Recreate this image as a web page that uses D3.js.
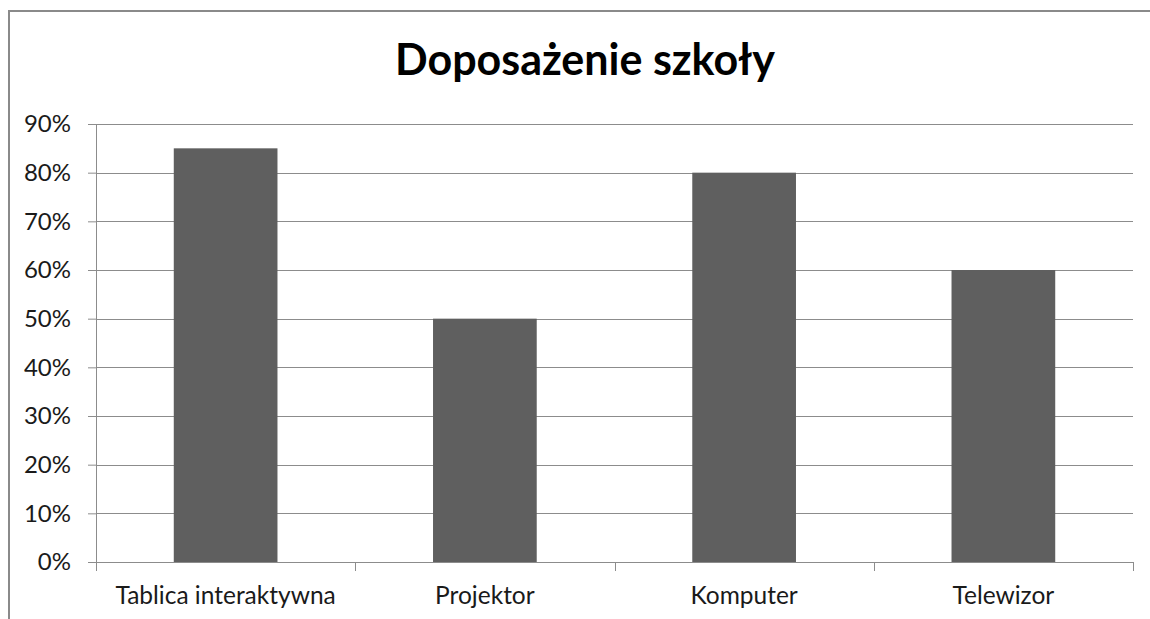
<!DOCTYPE html>
<html>
<head>
<meta charset="utf-8">
<script src="https://cdn.jsdelivr.net/npm/d3@7"></script>
<style>
  body { margin: 0; background: #fff; }
  text { font-family: Lato, "Open Sans", sans-serif; }
</style>
</head>
<body>
<div id="chart"></div>
<script>
// chart data
const categories = ["Tablica interaktywna", "Projektor", "Komputer", "Telewizor"];
const values = [0.85, 0.50, 0.80, 0.60];
const yTicks = [0, 0.1, 0.2, 0.3, 0.4, 0.5, 0.6, 0.7, 0.8, 0.9];
const title = "Doposażenie szkoły";

const W = 1150, H = 619;
const margin = {top: 124, right: 17, bottom: 57, left: 96};
const width = W - margin.left - margin.right,
      height = H - margin.top - margin.bottom;

const svg = d3.select("#chart").append("svg")
    .attr("width", W)
    .attr("height", H);

// outer frame of the chart
svg.append("rect")
    .attr("x", 9).attr("y", 11)
    .attr("width", 1160).attr("height", 640)
    .attr("fill", "none")
    .attr("stroke", "#8a8a8a")
    .attr("stroke-width", 2);

svg.append("text")
    .attr("x", 585).attr("y", 75)
    .attr("text-anchor", "middle")
    .style("font-size", "43px")
    .style("font-weight", "bold")
    .attr("fill", "#000")
    .text(title);

const g = svg.append("g")
    .attr("transform", "translate(" + margin.left + "," + margin.top + ")");

const x = d3.scaleBand()
    .domain(categories)
    .range([0, width])
    .paddingInner(0.6)
    .paddingOuter(0.3);

const y = d3.scaleLinear()
    .domain([0, 0.9])
    .range([height, 0]);

// gridlines
g.selectAll(".grid")
    .data(yTicks.slice(1))
  .enter().append("line")
    .attr("class", "grid")
    .attr("x1", 0).attr("x2", width)
    .attr("y1", d => Math.round(y(d)) + 0.5)
    .attr("y2", d => Math.round(y(d)) + 0.5)
    .attr("stroke", "#8c8c8c");

// bars
g.selectAll(".bar")
    .data(values)
  .enter().append("rect")
    .attr("class", "bar")
    .attr("x", (d, i) => x(categories[i]))
    .attr("width", x.bandwidth())
    .attr("y", d => y(d))
    .attr("height", d => height - y(d))
    .attr("fill", "#5f5f5f");

// y axis
const yAxis = g.append("g")
    .call(d3.axisLeft(y).tickValues(yTicks).tickFormat(d3.format(".0%")).tickSize(8).tickPadding(17));
yAxis.selectAll("line, path").attr("stroke", "#8c8c8c");
yAxis.select(".domain").attr("d", "M-8,0.5H0.5V" + (height + 0.5));
yAxis.selectAll("text")
    .style("font-size", "24px")
    .attr("fill", "#1a1a1a")
    .style("font-family", "Lato, sans-serif");

// x axis with ticks at category boundaries
const xAxisG = g.append("g").attr("transform", "translate(0," + height + ")");
xAxisG.append("line")
    .attr("x1", 0).attr("x2", width)
    .attr("y1", 0.5).attr("y2", 0.5)
    .attr("stroke", "#8c8c8c");
const step = width / categories.length;
xAxisG.selectAll(".xt")
    .data(d3.range(categories.length + 1))
  .enter().append("line")
    .attr("x1", d => Math.round(d * step) + 0.5)
    .attr("x2", d => Math.round(d * step) + 0.5)
    .attr("y1", 0).attr("y2", 9)
    .attr("stroke", "#8c8c8c");
xAxisG.selectAll(".xl")
    .data(categories)
  .enter().append("text")
    .attr("x", d => x(d) + x.bandwidth() / 2)
    .attr("y", 42)
    .attr("text-anchor", "middle")
    .style("font-size", "24.5px")
    .attr("fill", "#1a1a1a")
    .text(d => d);
</script>
</body>
</html>
